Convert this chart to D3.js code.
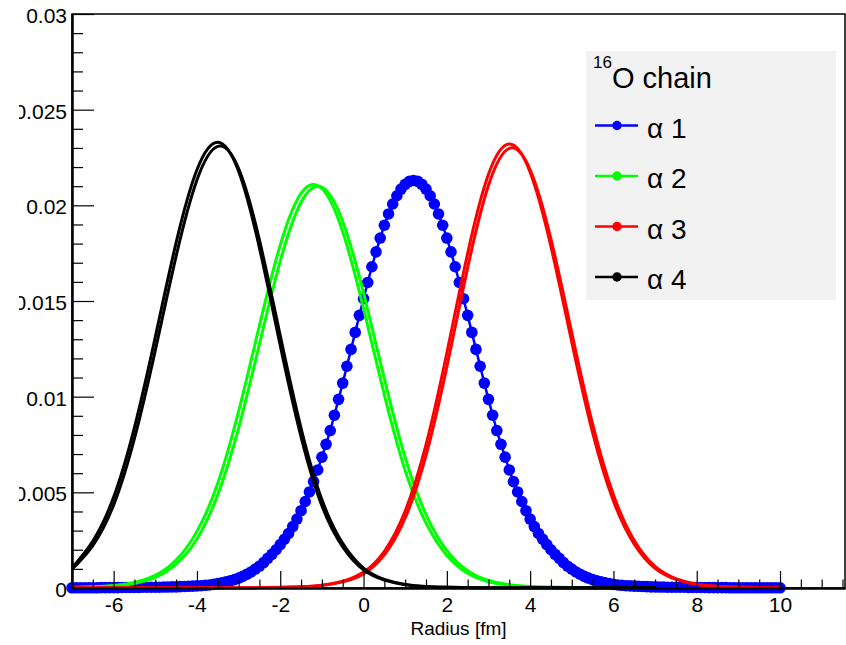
<!DOCTYPE html>
<html>
<head>
<meta charset="utf-8">
<script src="https://cdn.jsdelivr.net/npm/d3@7"></script>
<style>
  body { margin: 0; background: #fff; }
  text { font-family: "Liberation Sans", Arial, Helvetica, sans-serif; }
</style>
</head>
<body>
<div id="chart"></div>
<script>
// radius grids [fm]
const radiusFine = d3.range(171).map(i => +(-7 + i * 0.1).toFixed(1))     // alpha 1, -7..10
const radiusShort = d3.range(29).map(i => -7 + i * 0.5)                    // alpha 2 and 4, -7..7
const radiusLong = d3.range(35).map(i => -7 + i * 0.5)                     // alpha 3, -7..10

// alpha 1 (blue, with markers)
const alpha1 = [
  0.00001,0.00001,0.00001,0.00001,0.00001,0.00001,0.00001,0.00002,0.00002,0.00002,
  0.00002,0.00002,0.00003,0.00003,0.00003,0.00003,0.00003,0.00004,0.00004,0.00004,
  0.00004,0.00004,0.00005,0.00005,0.00006,0.00006,0.00007,0.00008,0.00009,0.00010,
  0.00011,0.00012,0.00014,0.00016,0.00019,0.00023,0.00027,0.00032,0.00037,0.00044,
  0.00052,0.00061,0.00072,0.00084,0.00099,0.00114,0.00133,0.00155,0.00176,0.00200,
  0.00227,0.00255,0.00285,0.00321,0.00360,0.00404,0.00452,0.00502,0.00556,0.00617,
  0.00684,0.00751,0.00823,0.00903,0.00986,0.01071,0.01159,0.01247,0.01336,0.01425,
  0.01512,0.01597,0.01679,0.01757,0.01829,0.01896,0.01955,0.02007,0.02050,0.02085,
  0.02110,0.02125,0.02130,0.02125,0.02110,0.02085,0.02050,0.02007,0.01955,0.01896,
  0.01829,0.01757,0.01679,0.01597,0.01512,0.01425,0.01336,0.01247,0.01159,0.01071,
  0.00986,0.00903,0.00823,0.00751,0.00684,0.00617,0.00556,0.00502,0.00452,0.00404,
  0.00360,0.00321,0.00285,0.00255,0.00227,0.00200,0.00176,0.00155,0.00133,0.00114,
  0.00099,0.00084,0.00072,0.00061,0.00052,0.00044,0.00037,0.00032,0.00027,0.00023,
  0.00019,0.00016,0.00014,0.00012,0.00011,0.00010,0.00009,0.00008,0.00007,0.00006,
  0.00006,0.00005,0.00005,0.00004,0.00004,0.00004,0.00004,0.00004,0.00003,0.00003,
  0.00003,0.00003,0.00003,0.00002,0.00002,0.00002,0.00002,0.00002,0.00001,0.00001,
  0.00001,0.00001,0.00001,0.00001,0.00001,0.00001,0.00001,0.00001,0.00001,0.00001,
  0.00001
]

// alpha 2 (green), two runs
const alpha2a = [0.00003,0.00006,0.00013,0.00029,0.00066,0.00146,0.00296,0.00547,0.00923,0.01371,
  0.01792,0.02062,0.02088,0.01862,0.01461,0.01009,0.00614,0.00339,0.00170,0.00077,
  0.00033,0.00015,0.00007,0.00004,0.00002,0.00001,0.00001,0.00001,0.00001]
const alpha2b = [0.00003,0.00005,0.00011,0.00024,0.00055,0.00125,0.00256,0.00488,0.00836,0.01274,
  0.01708,0.02016,0.02095,0.01916,0.01542,0.01093,0.00682,0.00384,0.00196,0.00090,
  0.00039,0.00017,0.00008,0.00004,0.00002,0.00001,0.00001,0.00001,0.00001]

// alpha 3 (red), two runs
const alpha3a = [0.00001,0.00001,0.00001,0.00001,0.00001,0.00001,0.00001,0.00001,0.00001,
  0.00002,0.00004,0.00007,0.00015,0.00035,0.00083,0.00192,0.00402,0.00749,0.01228,0.01749,0.02162,0.02320,
  0.02173,0.01784,0.01285,0.00812,0.00455,0.00229,0.00103,0.00045,0.00018,0.00008,0.00004,0.00002,0.00001]
const alpha3b = [0.00001,0.00001,0.00001,0.00001,0.00001,0.00001,0.00001,0.00001,0.00001,
  0.00002,0.00003,0.00006,0.00013,0.00032,0.00074,0.00173,0.00366,0.00693,0.01156,0.01674,0.02105,0.02298,
  0.02186,0.01824,0.01334,0.00856,0.00487,0.00248,0.00113,0.00049,0.00020,0.00009,0.00005,0.00002,0.00001]

// alpha 4 (black), two runs
const alpha4a = [0.00105,0.00245,0.00475,0.00840,0.01312,0.01805,0.02186,0.02330,0.02178,0.01778,
  0.01268,0.00790,0.00430,0.00215,0.00095,0.00041,0.00017,0.00007,0.00004,0.00002,
  0.00001,0.00001,0.00001,0.00001,0.00001,0.00001,0.00001,0.00001,0.00001]
const alpha4b = [0.00098,0.00222,0.00434,0.00782,0.01242,0.01734,0.02132,0.02308,0.02192,0.01819,
  0.01319,0.00835,0.00462,0.00233,0.00104,0.00045,0.00019,0.00008,0.00004,0.00002,
  0.00001,0.00001,0.00001,0.00001,0.00001,0.00001,0.00001,0.00001,0.00001]

const xTicks = [-6, -4, -2, 0, 2, 4, 6, 8, 10]
const xTickLabels = ["-6", "-4", "-2", "0", "2", "4", "6", "8", "10"]
const yTicks = [0, 0.005, 0.01, 0.015, 0.02, 0.025, 0.03]
const yTickLabels = ["0", "0.005", "0.01", "0.015", "0.02", "0.025", "0.03"]
const legendLabels = ["α 1", "α 2", "α 3", "α 4"]
const colors = ["#0000ff", "#00ff00", "#ff0000", "#000000"]

const width = 846, height = 645
const frame = { left: 72, right: 845, top: 14, bottom: 588 }

const svg = d3.select("#chart").append("svg")
    .attr("width", width)
    .attr("height", height)

const x = d3.scaleLinear().domain([-7, 11.56]).range([frame.left, frame.right])
const y = d3.scaleLinear().domain([0, 0.03]).range([frame.bottom, frame.top])

// the left edge of the picture cuts the widest y labels
svg.append("defs").append("clipPath").attr("id", "labelclip")
    .append("rect").attr("x", 19).attr("y", 0).attr("width", width).attr("height", height)

// frame
svg.append("rect")
    .attr("x", frame.left).attr("y", frame.top)
    .attr("width", frame.right - frame.left).attr("height", frame.bottom - frame.top)
    .attr("fill", "none").attr("stroke", "#000").attr("stroke-width", 1.5)

// curves
const smooth = d3.line()
    .x(d => x(d[0]))
    .y(d => y(d[1]))
    .curve(d3.curveNatural)
const straight = d3.line().x(d => x(d[0])).y(d => y(d[1]))

const zip = (xs, ys) => xs.map((v, i) => [v, ys[i]])
const plot = svg.append("g")

// alpha 1: line + markers
const blueData = zip(radiusFine, alpha1)
plot.append("path")
    .attr("d", straight(blueData))
    .attr("fill", "none").attr("stroke", colors[0]).attr("stroke-width", 2.5)
plot.selectAll("circle.m1")
    .data(blueData)
    .enter()
    .append("circle")
      .attr("class", "m1")
      .attr("cx", d => x(d[0]))
      .attr("cy", d => y(d[1]))
      .attr("r", 5.8)
      .attr("fill", colors[0])

const traces = [
    [radiusShort, alpha2a, colors[1]], [radiusShort, alpha2b, colors[1]],
    [radiusLong, alpha3a, colors[2]], [radiusLong, alpha3b, colors[2]],
    [radiusShort, alpha4a, colors[3]], [radiusShort, alpha4b, colors[3]]
]
traces.forEach(([xs, ys, c]) => {
    plot.append("path")
        .attr("d", smooth(zip(xs, ys)))
        .attr("fill", "none")
        .attr("stroke", c)
        .attr("stroke-width", 3)
})

// axes
const minorX = d3.range(-7, 11.6, 0.5).filter(v => !xTicks.includes(v))
const minorY = d3.range(0, 0.0305, 0.001).filter(v => !yTicks.some(t => Math.abs(t - v) < 1e-9))

const styleAxis = g => {
    g.select(".domain").attr("stroke-width", 2)
    g.selectAll(".tick line").attr("stroke-width", 1.2)
}

svg.append("g")
    .attr("transform", `translate(0,${frame.bottom})`)
    .call(d3.axisBottom(x).tickValues(minorX).tickSize(-8.5).tickSizeOuter(0).tickFormat(""))
    .call(styleAxis)

svg.append("g")
    .attr("transform", `translate(0,${frame.bottom})`)
    .call(d3.axisBottom(x).tickValues(xTicks).tickSize(-17).tickSizeOuter(0).tickPadding(9)
        .tickFormat((d, i) => xTickLabels[i]))
    .call(styleAxis)
    .call(g => g.selectAll("text").attr("font-size", 21).attr("fill", "#000").style("font-family", "Liberation Sans, Arial, sans-serif"))

svg.append("g")
    .attr("transform", `translate(${frame.left},0)`)
    .call(d3.axisLeft(y).tickValues(minorY).tickSize(-11).tickSizeOuter(0).tickFormat(""))
    .call(styleAxis)

svg.append("g")
    .attr("clip-path", "url(#labelclip)")
  .append("g")
    .attr("transform", `translate(${frame.left},0)`)
    .call(d3.axisLeft(y).tickValues(yTicks).tickSize(-22).tickSizeOuter(0).tickPadding(5)
        .tickFormat((d, i) => yTickLabels[i]))
    .call(styleAxis)
    .call(g => g.selectAll("text").attr("font-size", 21).attr("dy", "0.4em").attr("fill", "#000").style("font-family", "Liberation Sans, Arial, sans-serif"))

svg.append("text")
    .attr("x", (frame.left + frame.right) / 2)
    .attr("y", 635)
    .attr("text-anchor", "middle")
    .attr("font-size", 19)
    .text("Radius [fm]")

// legend
const legend = svg.append("g")
legend.append("rect")
    .attr("x", 586).attr("y", 51).attr("width", 250).attr("height", 249)
    .attr("fill", "#f2f2f2")

const title = legend.append("text").attr("x", 593).attr("y", 88).attr("font-size", 29)
title.append("tspan").attr("font-size", 17).attr("dy", -20).text("16")
title.append("tspan").attr("dy", 20).text("O chain")

legendLabels.forEach((label, i) => {
    const cy = 125.5 + i * 50.5
    legend.append("line")
        .attr("x1", 595).attr("x2", 638).attr("y1", cy).attr("y2", cy)
        .attr("stroke", colors[i]).attr("stroke-width", 2.7)
    legend.append("circle")
        .attr("cx", 617).attr("cy", cy).attr("r", 4.7)
        .attr("fill", colors[i])
    legend.append("text")
        .attr("x", 647).attr("y", cy + 12)
        .attr("font-size", 28)
        .text(label)
})
</script>
</body>
</html>
